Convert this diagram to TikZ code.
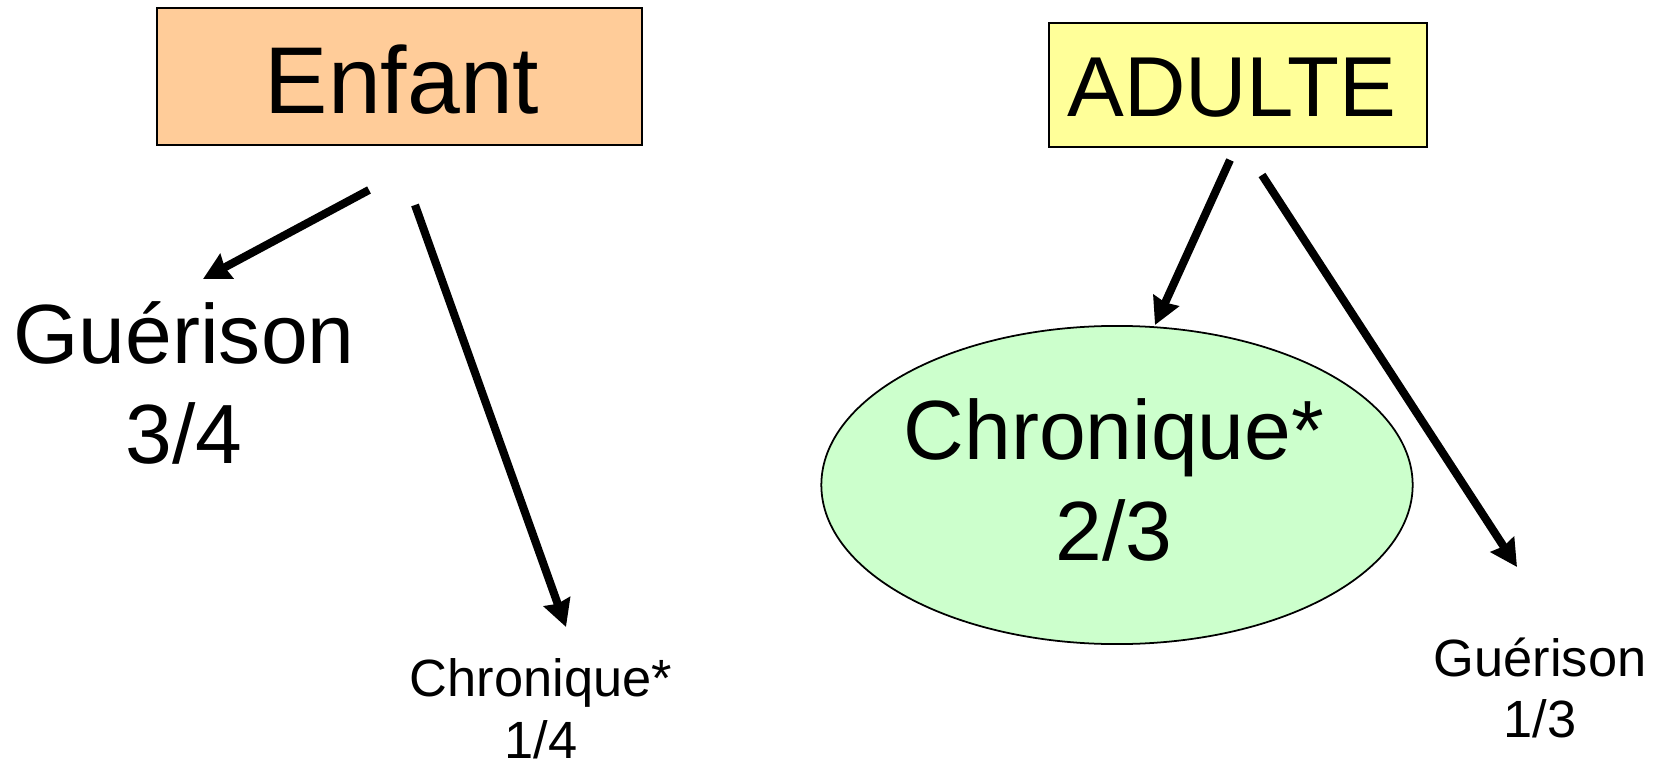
\documentclass[tikz,border=0pt]{standalone}
\usepackage{fontspec}
\setmainfont{Liberation Sans}
\usetikzlibrary{shapes.geometric,arrows.meta}
\definecolor{peach}{HTML}{FFCC99}
\definecolor{paleyellow}{HTML}{FFFF99}
\definecolor{palegreen}{HTML}{CCFFCC}
\begin{document}
\begin{tikzpicture}[x=0.01cm,y=-0.01cm,
  titlebox/.style={draw=black,line width=0.6pt,inner sep=0pt,anchor=center},
  biglabel/.style={align=center,inner sep=0pt,font=\fontsize{23.9pt}{28.5pt}\selectfont},
  smalllabel/.style={align=center,inner sep=0pt,font=\fontsize{14.9pt}{17.6pt}\selectfont},
  arr/.style={line width=2.3pt,-{Stealth[length=7.6pt,width=7.8pt,inset=0.6pt]}}]
\useasboundingbox (0,0) rectangle (1663,767);
% title boxes
\node[titlebox,fill=peach,minimum width=4.85cm,minimum height=1.37cm] (enfant) at (399.5,76.5) {};
\node[inner sep=0pt,font=\fontsize{27pt}{32pt}\selectfont] (enfanttxt) at (402,80) {Enfant};
\node[titlebox,fill=paleyellow,minimum width=3.78cm,minimum height=1.24cm] (adulte) at (1238,85) {};
\node[inner sep=0pt,font=\fontsize{24.2pt}{29pt}\selectfont] (adultetxt) at (1232,88) {ADULTE};
% ellipse
\node[ellipse,draw=black,line width=0.5pt,fill=palegreen,minimum width=5.91cm,minimum height=3.18cm,inner sep=0pt] (chron) at (1117,485) {};
\node[biglabel] (chrontxt) at (1114,480) {Chronique*\\2/3};
% labels
\node[biglabel] (guer) at (184,383) {Guérison\\3/4};
\node[smalllabel] (chron2) at (541,709) {Chronique*\\1/4};
\node[smalllabel] (guer2) at (1540,688) {Guérison\\1/3};
% arrow endpoints
\coordinate (a1s) at (369,190);
\coordinate (a1e) at (203,279);
\coordinate (a2s) at (415,205);
\coordinate (a2e) at (566,627);
\coordinate (a3s) at (1230,160);
\coordinate (a3e) at (1155,325);
\coordinate (a4s) at (1262,175);
\coordinate (a4e) at (1517,567);
\draw[arr] (a1s) -- (a1e);
\draw[arr] (a2s) -- (a2e);
\draw[arr] (a3s) -- (a3e);
\draw[arr] (a4s) -- (a4e);
\end{tikzpicture}
\end{document}
